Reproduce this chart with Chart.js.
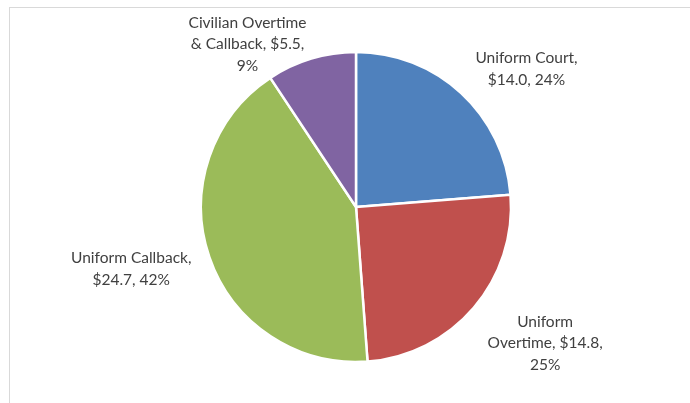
<!DOCTYPE html>
<html>
<head>
<meta charset="utf-8">
<script src="https://cdn.jsdelivr.net/npm/chart.js@4/dist/chart.umd.min.js"></script>
<style>
  html, body { margin: 0; padding: 0; background: #fff; }
  #wrap { position: relative; width: 690px; height: 403px; overflow: hidden; }
  #frame { position: absolute; left: 9px; top: 7px; width: 700px; height: 420px; border: 1px solid #d9d9d9; box-sizing: border-box; }
  #chart-cost-pie { position: absolute; left: 0; top: 0; }
</style>
</head>
<body>
<div id="wrap">
  <div id="frame"></div>
  <canvas id="chart-cost-pie" width="690" height="403"></canvas>
</div>
<script>
/* ── Cost breakdown data ($ millions) ── */
var categories = ['Uniform Court', 'Uniform Overtime', 'Uniform Callback', 'Civilian Overtime & Callback'];
var amounts    = [14.0, 14.8, 24.7, 5.5];
var sliceColors = ['#4F81BD', '#C0504D', '#9BBB59', '#8064A2'];

// label lines as wrapped in the data callouts
var labelLines = [
    ['Uniform Court,', '$14.0, 24%'],
    ['Uniform', 'Overtime, $14.8,', '25%'],
    ['Uniform Callback,', '$24.7, 42%'],
    ['Civilian Overtime', '& Callback, $5.5,', '9%']
];
// callout centre relative to the pie centre, in units of the outer radius
var labelOffset = [
    [1.10, -0.89],
    [1.22,  0.88],
    [-1.45, 0.40],
    [-0.70, -1.05]
];

var calloutPlugin = {
    id: 'callouts',
    afterDatasetsDraw: function (chart) {
        var ctx = chart.ctx;
        var meta = chart.getDatasetMeta(0);
        ctx.save();
        ctx.font = '15.5px Lato, "Open Sans", sans-serif';
        ctx.fillStyle = '#404040';
        ctx.textAlign = 'center';
        ctx.textBaseline = 'middle';
        meta.data.forEach(function (arc, i) {
            var p = arc.getProps(['x', 'y', 'outerRadius'], true);
            var cx = p.x + labelOffset[i][0] * p.outerRadius;
            var cy = p.y + labelOffset[i][1] * p.outerRadius;
            var lines = labelLines[i];
            var lh = 21.5;
            var top = cy - (lines.length - 1) * lh / 2;
            lines.forEach(function (t, k) { ctx.fillText(t, cx, top + k * lh); });
        });
        ctx.restore();
    }
};

var ctx = document.getElementById('chart-cost-pie').getContext('2d');
var costPie = new Chart(ctx, {
    type: 'pie',
    data: {
        labels: categories,
        datasets: [{
            data: amounts,
            backgroundColor: sliceColors,
            borderColor: '#ffffff',
            borderWidth: 2.5
        }]
    },
    options: {
        responsive: false,
        animation: false,
        radius: 155,
        layout: { padding: { left: 201, right: 179, top: 52, bottom: 41 } },
        plugins: {
            legend: { display: false },
            tooltip: { enabled: false }
        }
    },
    plugins: [calloutPlugin]
});
</script>
</body>
</html>
